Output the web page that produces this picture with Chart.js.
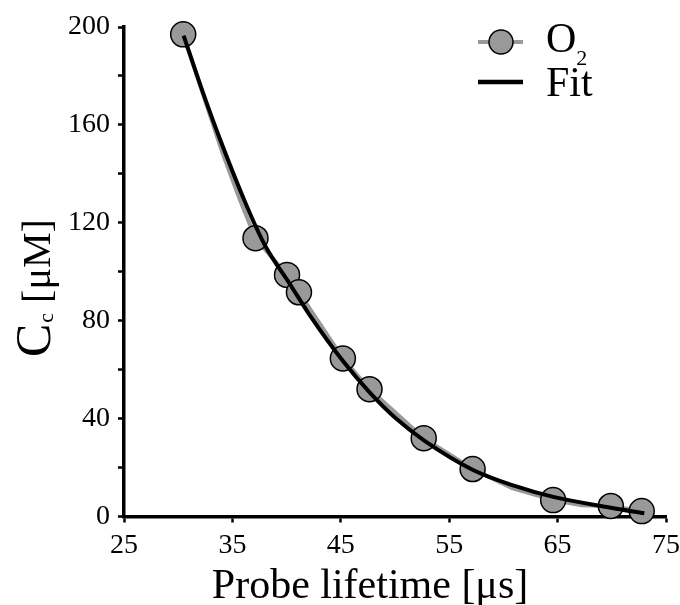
<!DOCTYPE html>
<html>
<head>
<meta charset="utf-8">
<script src="https://cdn.jsdelivr.net/npm/chart.js@4"></script>
<style>
    html, body { margin: 0; padding: 0; background: #fff; }
    #wrap { width: 680px; height: 605px; }
</style>
</head>
<body>
<div id="wrap"><canvas id="chart"></canvas></div>
<script>
// measured O2 points (markers)
const o2Lifetime = [30.46, 37.13, 40.04, 41.14, 45.19, 47.65, 52.65, 57.16, 64.59, 69.91, 72.76];
const o2Conc = [197.0, 113.7, 98.7, 91.6, 64.6, 52.0, 32.0, 19.4, 6.7, 4.3, 2.2];

// gray trace through the data (a few extra points between markers)
const traceLifetime = [30.46, 34.1, 35.7, 37.13, 40.04, 41.14, 45.19, 47.65, 52.65, 57.16, 60.8, 64.59, 67.2, 69.91, 72.76];
const traceConc = [197.0, 148.4, 129.3, 113.7, 98.7, 91.6, 64.6, 52.0, 32.0, 19.4, 11.6, 6.7, 4.6, 4.3, 2.2];

// fit curve
const fitLifetime = [30.5, 32.3, 34.0, 36.6, 38.1, 40.3, 42.1, 45.2, 47.7, 50.1, 52.7, 57.2, 60.9, 64.6, 69.9, 73.0];
const fitConc = [196.5, 173, 152.5, 124, 110, 95, 82.5, 63.5, 50.5, 40, 31, 19, 12.7, 8, 3.6, 1.3];

const xTicks = [25, 35, 45, 55, 65, 75];
const yTicks = [0, 20, 40, 60, 80, 100, 120, 140, 160, 180, 200];
const yLabelled = [0, 40, 80, 120, 160, 200];

const SERIF = '"Liberation Serif", "Times New Roman", serif';
const GRAY = '#999999';

const toPoints = (xs, ys) => xs.map((x, i) => ({ x: x, y: ys[i] }));

// axis titles with subscripts + legend
const textPlugin = {
    id: 'textPlugin',
    afterDraw(chart) {
        const ctx = chart.ctx;
        ctx.save();
        ctx.fillStyle = '#000';
        ctx.textBaseline = 'alphabetic';

        // x title
        ctx.font = '42px ' + SERIF;
        ctx.textAlign = 'center';
        ctx.fillText('Probe lifetime [\u03bcs]', 370, 598);

        // y title, rotated (reads bottom to top)
        ctx.textAlign = 'left';
        ctx.translate(50, 357);
        ctx.rotate(-Math.PI / 2);
        ctx.font = '50px ' + SERIF;
        ctx.fillText('C', 0, 0);
        const wC = ctx.measureText('C').width;
        ctx.font = '22px ' + SERIF;
        ctx.fillText('c', wC + 1, 3);
        const wSub = ctx.measureText('c').width;
        ctx.font = '40px ' + SERIF;
        ctx.fillText(' [\u03bcM]', wC + wSub + 1, 0);
        ctx.restore();

        // legend
        ctx.save();
        ctx.lineCap = 'butt';
        ctx.strokeStyle = GRAY;
        ctx.lineWidth = 4;
        ctx.beginPath();
        ctx.moveTo(478, 42);
        ctx.lineTo(523, 42);
        ctx.stroke();
        ctx.beginPath();
        ctx.arc(501, 42, 12, 0, Math.PI * 2);
        ctx.fillStyle = GRAY;
        ctx.fill();
        ctx.lineWidth = 1.5;
        ctx.strokeStyle = '#000';
        ctx.stroke();

        ctx.strokeStyle = '#000';
        ctx.lineWidth = 4.5;
        ctx.beginPath();
        ctx.moveTo(478, 82);
        ctx.lineTo(523, 82);
        ctx.stroke();

        ctx.fillStyle = '#000';
        ctx.textAlign = 'left';
        ctx.font = '42px ' + SERIF;
        ctx.fillText('O', 546, 52);
        const wO = ctx.measureText('O').width;
        ctx.font = '22px ' + SERIF;
        ctx.fillText('2', 546 + wO, 65);
        ctx.font = '42px ' + SERIF;
        ctx.fillText('Fit', 546, 96);
        ctx.restore();
    }
};

new Chart(document.getElementById('chart'), {
    type: 'scatter',
    data: {
        datasets: [
            {
                label: 'Fit',
                data: toPoints(fitLifetime, fitConc),
                showLine: true,
                borderColor: '#000',
                borderWidth: 4,
                pointRadius: 0,
                cubicInterpolationMode: 'monotone',
                clip: false,
                order: 0
            },
            {
                label: 'O2',
                data: toPoints(o2Lifetime, o2Conc),
                showLine: false,
                pointRadius: 12.5,
                pointBackgroundColor: GRAY,
                pointBorderColor: '#000',
                pointBorderWidth: 1.5,
                clip: false,
                order: 1
            },
            {
                label: 'O2 trace',
                data: toPoints(traceLifetime, traceConc),
                showLine: true,
                borderColor: GRAY,
                borderWidth: 4,
                pointRadius: 0,
                clip: false,
                order: 2
            }
        ]
    },
    options: {
        responsive: true,
        maintainAspectRatio: false,
        animation: false,
        layout: {
            padding: { left: 0, right: 13, top: 27, bottom: 0 }
        },
        plugins: {
            legend: { display: false },
            tooltip: { enabled: false }
        },
        scales: {
            x: {
                type: 'linear',
                min: 25,
                max: 75,
                afterBuildTicks: (scale) => {
                    scale.ticks = xTicks.map(v => ({ value: v }));
                },
                afterFit: (scale) => {
                    scale.height = 88.5;
                    scale.paddingLeft = 0;
                    scale.paddingRight = 0;
                },
                border: { display: true, color: '#000', width: 3.5 },
                grid: {
                    drawOnChartArea: false,
                    drawTicks: true,
                    tickLength: 6,
                    tickWidth: 2.5,
                    tickColor: '#000'
                },
                ticks: {
                    color: '#000',
                    padding: 6,
                    maxRotation: 0,
                    font: { family: SERIF, size: 28 }
                }
            },
            y: {
                type: 'linear',
                min: 0,
                max: 200,
                afterBuildTicks: (scale) => {
                    scale.ticks = yTicks.map(v => ({ value: v }));
                },
                afterFit: (scale) => {
                    scale.width = 124;
                    scale.paddingTop = 0;
                    scale.paddingBottom = 0;
                },
                border: { display: true, color: '#000', width: 3.5 },
                grid: {
                    drawOnChartArea: false,
                    drawTicks: true,
                    tickLength: 6,
                    tickWidth: 2.5,
                    tickColor: '#000'
                },
                ticks: {
                    color: '#000',
                    padding: 8,
                    font: { family: SERIF, size: 28 },
                    callback: (value) => yLabelled.includes(value) ? String(value) : ''
                }
            }
        }
    },
    plugins: [textPlugin]
});
</script>
</body>
</html>
